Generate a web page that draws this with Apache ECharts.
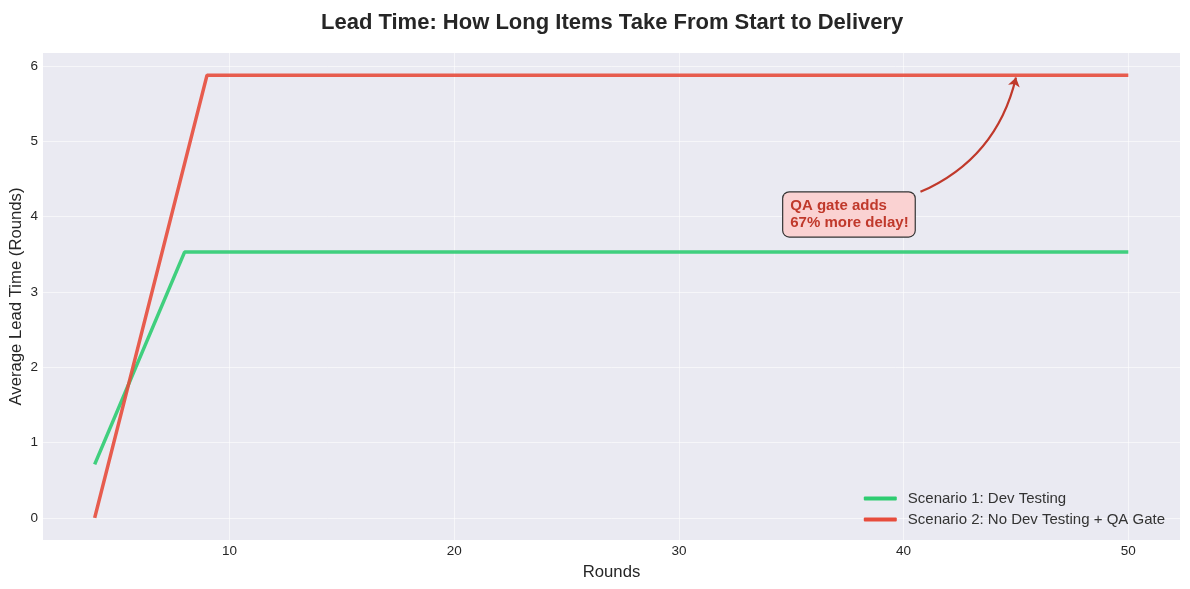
<!DOCTYPE html>
<html><head><meta charset="utf-8">
<script src="https://cdn.jsdelivr.net/npm/echarts@6/dist/echarts.min.js"></script>
<style>html,body{margin:0;padding:0;background:#fff}#c{width:1190px;height:589px}</style>
</head><body><div id="c"></div>
<script>
const xTicks = [10, 20, 30, 40, 50];
const yTicks = [0, 1, 2, 3, 4, 5, 6];
const scenario1 = [[4, 0.71], [8, 3.53], [50, 3.53]];
const scenario2 = [[4, 0.0], [9, 5.88], [50, 5.88]];
const seriesNames = ['Scenario 1: Dev Testing', 'Scenario 2: No Dev Testing + QA Gate'];
const annotationText = 'QA gate adds\n67% more delay!';
const annotationTextPos = [35, 4.03];
const arrowFrom = [40.75, 4.33];
const arrowTo = [45, 5.85];

const FONT = 'Liberation Sans, Arial, sans-serif';
const chart = echarts.init(document.getElementById('c'));
chart.setOption({
  backgroundColor: '#ffffff',
  textStyle: { fontFamily: FONT },
  title: {
    text: 'Lead Time: How Long Items Take From Start to Delivery',
    left: 316, top: 7,
    textStyle: { fontSize: 22, fontWeight: 'bold', color: '#262626', fontFamily: FONT }
  },
  grid: { left: 43, right: 10, top: 53, bottom: 49, show: true, backgroundColor: '#eaeaf2', borderWidth: 0, outerBoundsMode: 'none', containLabel: false },
  legend: {
    orient: 'vertical', right: 20, top: 486, itemGap: 6,
    itemWidth: 33, itemHeight: 4, icon: 'roundRect',
    textStyle: { fontSize: 15, color: '#333', fontFamily: FONT, padding: [0, 0, 0, 6] },
    data: seriesNames
  },
  xAxis: {
    type: 'value', min: 1.7, max: 52.3,
    name: 'Rounds', nameLocation: 'middle', nameGap: 24,
    nameTextStyle: { fontSize: 16.7, color: '#262626' },
    axisLine: { show: false },
    axisTick: { show: false, customValues: xTicks },
    axisLabel: { customValues: xTicks, fontSize: 13.5, color: '#262626', margin: 4 },
    splitLine: { show: true, lineStyle: { color: 'rgba(255,255,255,0.55)', width: 1 } }
  },
  yAxis: {
    type: 'value', min: -0.294, max: 6.174,
    name: 'Average Lead Time (Rounds)', nameLocation: 'middle', nameGap: 18, nameMoveOverlap: false,
    nameTextStyle: { fontSize: 16.7, color: '#262626' },
    axisLine: { show: false },
    axisTick: { show: false, customValues: yTicks },
    axisLabel: { customValues: yTicks, fontSize: 13.5, color: '#262626', margin: 5 },
    splitLine: { show: true, lineStyle: { color: 'rgba(255,255,255,0.55)', width: 1 } }
  },
  series: [
    {
      name: seriesNames[0], type: 'line', data: scenario1, showSymbol: false, symbol: 'none',
      lineStyle: { width: 3.5, color: '#2ecc71', opacity: 0.9 }, itemStyle: { color: '#2ecc71' }, z: 3
    },
    {
      name: seriesNames[1], type: 'line', data: scenario2, showSymbol: false, symbol: 'none',
      lineStyle: { width: 3.5, color: '#e74c3c', opacity: 0.9 }, itemStyle: { color: '#e74c3c' }, z: 4,
      markPoint: {
        symbol: 'circle', symbolSize: 0,
        data: [{ coord: annotationTextPos }],
        label: {
          show: true, position: 'right', distance: -8, formatter: annotationText,
          fontSize: 15, fontWeight: 'bold', color: '#c0392b', lineHeight: 17,
          backgroundColor: '#fad2d2', borderColor: '#333', borderWidth: 1.2, borderRadius: 6,
          padding: [5, 6, 5, 7], fontFamily: FONT
        }
      }
    },
    {
      type: 'lines', coordinateSystem: 'cartesian2d', z: 5,
      symbol: ['none', 'arrow'], symbolSize: 9,
      lineStyle: { color: '#c0392b', width: 2.2, curveness: -0.25, opacity: 1 },
      data: [{ coords: [arrowFrom, arrowTo] }]
    }
  ]
});
</script></body></html>
